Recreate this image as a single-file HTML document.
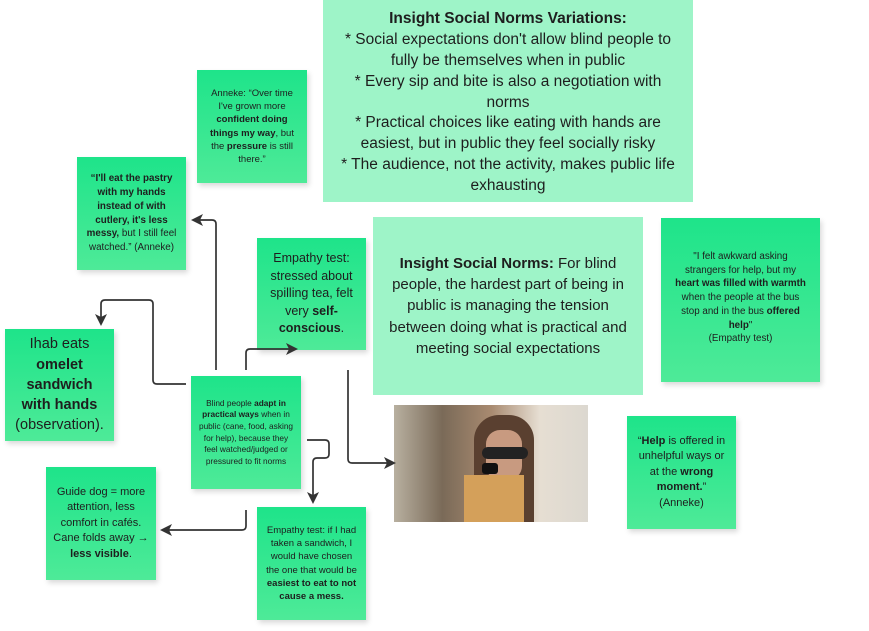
<!DOCTYPE html>
<html><head><meta charset="utf-8"><style>
body{margin:0;width:869px;height:631px;background:#fff;position:relative;overflow:hidden;font-family:"Liberation Sans",sans-serif;color:#1e1e1e}
.n{position:absolute;box-sizing:border-box;display:flex;align-items:center;justify-content:center;text-align:center;background:linear-gradient(#1ee48a,#4eea98);box-shadow:2px 3px 5px rgba(0,0,0,.15);padding:4px 6px;line-height:1.4}
.i{position:absolute;box-sizing:border-box;display:flex;align-items:center;justify-content:center;text-align:center;background:#9ef4c8}
.n>div,.i>div{width:100%}
b{font-weight:bold}
</style></head><body>
<div class="i" style="left:323px;top:0;width:370px;height:202px;font-size:15.5px;line-height:1.35;padding:8px 14px 4px">
<div><b>Insight Social Norms Variations:</b><br>* Social expectations don't allow blind people to fully be themselves when in public<br>* Every sip and bite is also a negotiation with norms<br>* Practical choices like eating with hands are easiest, but in public they feel socially risky<br>* The audience, not the activity, makes public life exhausting</div></div>
<div class="n" style="left:197px;top:70px;width:110px;height:113px;font-size:9.5px"><div>Anneke: “Over time I've grown more <b>confident doing things my way</b>, but the <b>pressure</b> is still there.”</div></div>
<div class="n" style="left:77px;top:157px;width:109px;height:113px;font-size:9.8px"><div><b>“I'll eat the pastry with my hands instead of with cutlery, it's less messy,</b> but I still feel watched.” (Anneke)</div></div>
<div class="n" style="left:257px;top:238px;width:109px;height:112px;font-size:12.5px"><div>Empathy test: stressed about spilling tea, felt very <b>self-conscious</b>.</div></div>
<div class="i" style="left:373px;top:217px;width:270px;height:178px;font-size:15px;line-height:1.42;padding:8px 6px"><div><b>Insight Social Norms:</b> For blind people, the hardest part of being in public is managing the tension between doing what is practical and meeting social expectations</div></div>
<div class="n" style="left:661px;top:218px;width:159px;height:164px;font-size:9.8px;padding:8px 14px 12px"><div>"I felt awkward asking strangers for help, but my <b>heart was filled with warmth</b> when the people at the bus stop and in the bus <b>offered help</b>"<br>(Empathy test)</div></div>
<div class="n" style="left:5px;top:329px;width:109px;height:112px;font-size:14.5px;padding:4px 10px"><div>Ihab eats <b>omelet sandwich with hands</b> (observation).</div></div>
<div class="n" style="left:191px;top:376px;width:110px;height:113px;font-size:8.3px"><div>Blind people <b>adapt in practical ways</b> when in public (cane, food, asking for help), because they feel watched/judged or pressured to fit norms</div></div>
<div style="position:absolute;left:394px;top:405px;width:194px;height:117px;overflow:hidden;background:linear-gradient(90deg,#b8b0a0,#7a6a58 25%,#a88a70 50%,#e6ded2 75%,#dcd8d0)">
<div style="position:absolute;left:80px;top:10px;width:60px;height:107px;background:#5a4030;border-radius:25px 25px 0 0"></div>
<div style="position:absolute;left:92px;top:25px;width:36px;height:50px;background:#c89a80;border-radius:14px"></div>
<div style="position:absolute;left:88px;top:42px;width:46px;height:12px;background:#222;border-radius:6px"></div>
<div style="position:absolute;left:70px;top:70px;width:60px;height:47px;background:#d4a05a"></div>
<div style="position:absolute;left:88px;top:58px;width:16px;height:11px;background:#111;border-radius:3px"></div></div>
<div class="n" style="left:627px;top:416px;width:109px;height:113px;font-size:11px"><div>“<b>Help</b> is offered in unhelpful ways or at the <b>wrong moment.</b>”<br>(Anneke)</div></div>
<div class="n" style="left:46px;top:467px;width:110px;height:113px;font-size:11px"><div>Guide dog = more attention, less comfort in cafés. Cane folds away → <b>less visible</b>.</div></div>
<div class="n" style="left:257px;top:507px;width:109px;height:113px;font-size:9.5px"><div>Empathy test: if I had taken a sandwich, I would have chosen the one that would be <b>easiest to eat to not cause a mess.</b></div></div>
<svg width="869" height="631" style="position:absolute;left:0;top:0" fill="none" stroke="#333" stroke-width="1.7">
<defs><marker id="a" markerWidth="12" markerHeight="12" refX="9" refY="6" orient="auto" markerUnits="userSpaceOnUse"><path d="M0,0 L12,6 L0,12 L3,6z" fill="#333" stroke="none"/></marker></defs>
<path d="M216,370 V224 Q216,220 212,220 H194" marker-end="url(#a)"/>
<path d="M186,384 H157 Q153,384 153,380 V304 Q153,300 149,300 H105 Q101,300 101,304 V323" marker-end="url(#a)"/>
<path d="M246,370 V353 Q246,349 250,349 H295" marker-end="url(#a)"/>
<path d="M348,370 V459 Q348,463 352,463 H393" marker-end="url(#a)"/>
<path d="M307,440 H325 Q329,440 329,444 V454 Q329,458 325,458 H317 Q313,458 313,462 V501" marker-end="url(#a)"/>
<path d="M246,510 V526 Q246,530 242,530 H163" marker-end="url(#a)"/>
</svg>
</body></html>
